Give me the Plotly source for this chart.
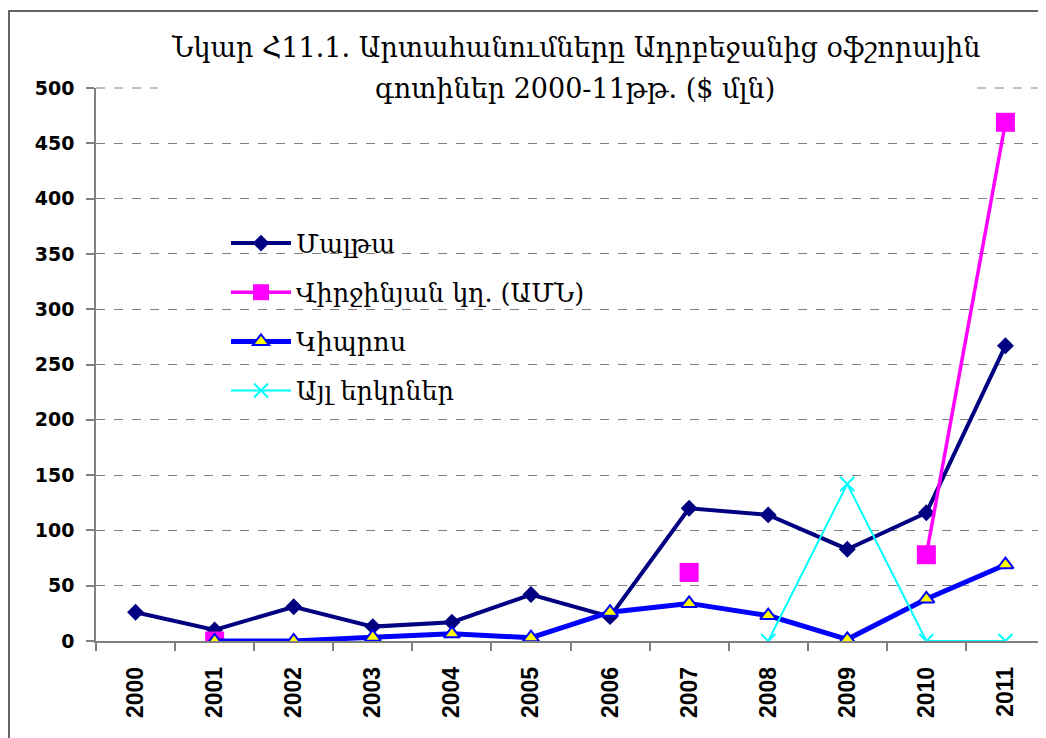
import plotly.graph_objects as go

years = ["2000", "2001", "2002", "2003", "2004", "2005", "2006", "2007", "2008", "2009", "2010", "2011"]
malta = [26, 10, 31, 13, 17, 42, 22, 120, 114, 83, 116, 267]
virgin = [None, 0, None, None, None, None, None, 62, None, None, 78, 469]
cyprus = [None, 0, 0, 3.5, 6.5, 3, 26, 34, 23, 1.5, 38, 69]
others = [None, None, None, None, None, None, None, None, 0, 142, 0, 0]

names = ["Մալթա", "Վիրջինյան կղ. (ԱՄՆ)", "Կիպրոս", "Այլ երկրներ"]
title_lines = ["Նկար Հ11.1. Արտահանումները Ադրբեջանից օֆշորային", "գոտիներ 2000-11թթ. ($ մլն)"]

OFF = 8  # page body margin
W, H = 1046 - OFF, 738 - OFF
ML, MR, MT, MB = 96 - OFF, 1, 88 - OFF, 97
GRID = "#808080"

fig = go.Figure()
fig.add_trace(go.Scatter(x=years, y=malta, name=names[0], mode="lines+markers", legendgroup="a",
                         line=dict(color="#000080", width=4),
                         marker=dict(symbol="diamond", size=13, color="#000080")))
fig.add_trace(go.Scatter(x=years, y=virgin, name=names[1], mode="lines+markers", legendgroup="b",
                         line=dict(color="#FF00FF", width=3.5),
                         marker=dict(symbol="square", size=19, color="#FF00FF")))
fig.add_trace(go.Scatter(x=years, y=cyprus, name=names[2], mode="lines+markers", legendgroup="c",
                         line=dict(color="#0000FF", width=5),
                         marker=dict(symbol="triangle-up", size=14, color="#FFFF00",
                                     line=dict(color="#0000FF", width=2))))
fig.add_trace(go.Scatter(x=years, y=others, name=names[3], mode="lines+markers", legendgroup="d",
                         line=dict(color="#00FFFF", width=2),
                         marker=dict(symbol="x-thin", size=14, color="#00FFFF",
                                     line=dict(color="#00FFFF", width=2))))

pw = W - ML - MR
ph = H - MT - MB

def px_x(p):  # page pixel -> paper
    return (p - OFF - ML) / pw

def px_y(p):
    return (H - MB - (p - OFF)) / ph

shapes = [
    # visible pieces of the top (500) gridline, outside the title's white area
    dict(type="line", xref="paper", yref="paper", x0=0, x1=px_x(158), y0=1, y1=1,
         line=dict(color=GRID, width=1, dash="dash"), layer="above"),
    dict(type="line", xref="paper", yref="paper", x0=px_x(977), x1=1, y0=1, y1=1,
         line=dict(color=GRID, width=1, dash="dash"), layer="above"),
    # white area behind the legend
    dict(type="rect", xref="paper", yref="paper", x0=px_x(97), x1=px_x(693), y0=px_y(415), y1=px_y(205),
         fillcolor="white", line=dict(width=0), layer="between"),
    # chart border
    dict(type="rect", xref="paper", yref="paper", x0=px_x(9), x1=px_x(1070), y0=px_y(770), y1=px_y(11),
         fillcolor="rgba(0,0,0,0)", line=dict(color="#333333", width=1.5), layer="above"),
]

annotations = [
    dict(text=title_lines[0], xref="paper", yref="paper", x=px_x(575), y=px_y(47),
         xanchor="center", yanchor="middle", showarrow=False,
         font=dict(family="DejaVu Serif", size=27, color="black")),
    dict(text=title_lines[1], xref="paper", yref="paper", x=px_x(575), y=px_y(88),
         xanchor="center", yanchor="middle", showarrow=False,
         font=dict(family="DejaVu Serif", size=27, color="black")),
]

fig.update_layout(
    width=W, height=H,
    margin=dict(l=ML, r=MR, t=MT, b=MB),
    paper_bgcolor="white", plot_bgcolor="white",
    showlegend=True,
    legend=dict(x=px_x(226), y=px_y(220), xanchor="left", yanchor="top",
                bgcolor="rgba(0,0,0,0)", font=dict(family="DejaVu Serif", size=25.5, color="black"),
                traceorder="grouped", tracegroupgap=13, itemwidth=60),
    shapes=shapes,
    annotations=annotations,
    xaxis=dict(type="category", showgrid=False, showline=True, linecolor=GRID, linewidth=1.5,
               ticks="outside", tickson="boundaries", ticklen=8, tickcolor=GRID, tickwidth=1.5,
               tickangle=-90, ticklabelstandoff=15,
               tickfont=dict(family="Liberation Sans", size=23, color="black", weight="bold"),
               range=[-0.5, 11.5], zeroline=False),
    yaxis=dict(range=[0, 500], tickmode="linear", tick0=0, dtick=50, showgrid=True, gridcolor=GRID,
               griddash="dash", gridwidth=1,
               showline=True, linecolor=GRID, linewidth=1.5, ticks="outside", ticklen=8,
               tickcolor=GRID, tickwidth=1.5, zeroline=False, ticklabelstandoff=8,
               tickfont=dict(family="DejaVu Sans", size=19, color="black", weight="bold")),
)

fig.write_html("out.html")
